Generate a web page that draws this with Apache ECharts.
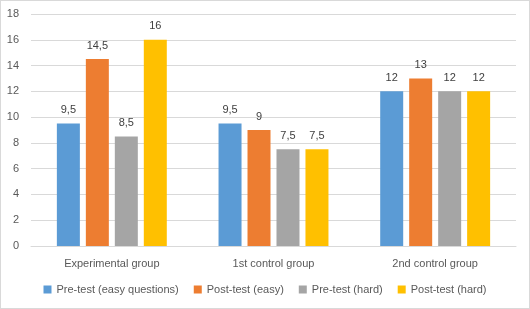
<!DOCTYPE html>
<html><head><meta charset="utf-8">
<script src="https://cdn.jsdelivr.net/npm/echarts@6/dist/echarts.min.js"></script>
<style>html,body{margin:0;padding:0;background:#fff}#c{width:530px;height:309px;box-sizing:border-box;border:1px solid #d9d9d9}</style>
</head><body><div id="c"></div>
<script>
const categories = ['Experimental group', '1st control group', '2nd control group'];
const seriesNames = ['Pre-test (easy questions)', 'Post-test (easy)', 'Pre-test (hard)', 'Post-test (hard)'];
const preEasy = [9.5, 9.5, 12];
const postEasy = [14.5, 9, 13];
const preHard = [8.5, 7.5, 12];
const postHard = [16, 7.5, 12];
const colors = ['#5B9BD5', '#ED7D31', '#A5A5A5', '#FFC000'];
const yTicks = {min: 0, max: 18, interval: 2};

const font = 'Liberation Sans, Arial, sans-serif';
const fmt = v => String(v).replace('.', ',');
const data = [preEasy, postEasy, preHard, postHard];
const chart = echarts.init(document.getElementById('c'));
chart.setOption({
  animation: false,
  color: colors,
  textStyle: {fontFamily: font},
  grid: {left: 30, right: 13, top: 13, bottom: 62},
  legend: {
    bottom: 8, left: 'center', itemWidth: 8, itemHeight: 8, itemGap: 15,
    icon: 'rect', textStyle: {color: '#595959', fontSize: 11, fontFamily: font},
    data: seriesNames
  },
  xAxis: {
    type: 'category', data: categories,
    axisLine: {lineStyle: {color: '#d9d9d9'}}, axisTick: {show: false},
    axisLabel: {color: '#595959', fontSize: 11, margin: 12, fontFamily: font}
  },
  yAxis: {
    type: 'value', min: yTicks.min, max: yTicks.max, interval: yTicks.interval,
    axisLine: {show: false}, axisTick: {show: false},
    splitLine: {lineStyle: {color: '#d9d9d9'}},
    axisLabel: {color: '#595959', fontSize: 11, margin: 12, fontFamily: font}
  },
  series: seriesNames.map((n, i) => ({
    name: n, type: 'bar', data: data[i],
    barGap: '26%', barCategoryGap: '32%',
    label: {show: true, position: 'top', distance: 8, color: '#404040', fontSize: 11,
      fontFamily: font, formatter: p => fmt(p.value)}
  }))
});
</script></body></html>
